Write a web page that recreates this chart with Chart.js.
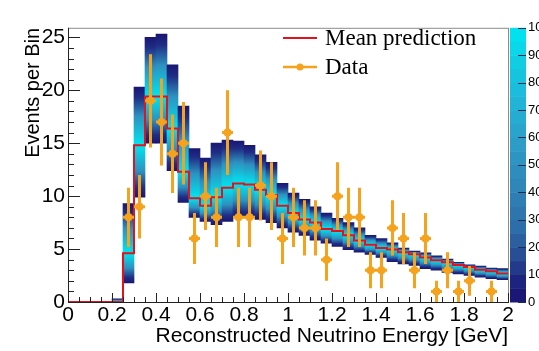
<!DOCTYPE html>
<html>
<head>
<meta charset="utf-8">
<script src="https://cdn.jsdelivr.net/npm/chart.js@4.4.1/dist/chart.umd.min.js"></script>
<style>
  body { margin: 0; background: #fff; }
  #wrap { width: 539px; height: 351px; position: relative; }
</style>
</head>
<body>
<div id="wrap"><canvas id="chart"></canvas></div>
<script>
// prediction histogram, 0.05 GeV bins
const binWidth = 0.05;
const binStart = [0.00, 0.05, 0.10, 0.15, 0.20, 0.25, 0.30, 0.35, 0.40, 0.45,
                  0.50, 0.55, 0.60, 0.65, 0.70, 0.75, 0.80, 0.85, 0.90, 0.95,
                  1.00, 1.05, 1.10, 1.15, 1.20, 1.25, 1.30, 1.35, 1.40, 1.45,
                  1.50, 1.55, 1.60, 1.65, 1.70, 1.75, 1.80, 1.85, 1.90, 1.95];
const meanPred = [0, 0, 0, 0, 0, 4.6, 14.8, 19.4, 19.4, 16.4,
                  12.3, 9.8, 9.1, 9.9, 10.8, 11.2, 11.1, 10.6, 10.1, 9.1,
                  8.4, 7.8, 7.5, 6.9, 6.7, 6.3, 5.8, 5.4, 5.1, 4.95,
                  4.7, 4.5, 4.2, 3.95, 3.75, 3.5, 3.3, 3.05, 2.9, 2.7];
// spread of the predicted spectra (lowest / highest filled cell per bin)
const bandLow  = [null, null, null, null, 0, 1.8, 9.9, 15.0, 15.0, 12.4,
                  9.4, 8.0, 7.6, 7.3, 7.6, 8.0, 8.0, 7.8, 7.5, 7.0,
                  6.6, 6.3, 5.85, 5.55, 5.25, 4.95, 4.7, 4.5, 4.2, 3.8,
                  3.6, 3.45, 3.15, 3.0, 2.8, 2.65, 2.5, 2.35, 2.2, 2.1];
const bandHigh = [null, null, null, null, 0.3, 9.3, 20.3, 25.0, 25.3, 22.4,
                  18.5, 14.5, 13.6, 15.0, 15.3, 15.2, 14.8, 13.9, 13.2, 11.2,
                  10.3, 9.7, 9.0, 8.4, 7.9, 7.5, 7.0, 6.3, 6.0, 5.6,
                  5.1, 4.8, 4.65, 4.35, 4.05, 3.75, 3.5, 3.4, 3.2, 3.15];

// observed events
const dataE = [0.275, 0.325, 0.375, 0.425, 0.475, 0.525, 0.575, 0.625, 0.675, 0.725,
               0.775, 0.825, 0.875, 0.925, 0.975, 1.025, 1.075, 1.125, 1.175, 1.225,
               1.275, 1.325, 1.375, 1.425, 1.475, 1.525, 1.575, 1.625, 1.675, 1.725,
               1.775, 1.825, 1.925];
const dataN = [8, 9, 19, 17, 14, 15, 6, 10, 8, 16,
               8, 8, 11, 10, 6, 8, 7, 7, 4, 10,
               8, 8, 3, 3, 7, 6, 3, 6, 1, 3,
               1, 2, 1];
const dataErr = [2.8, 3.0, 4.4, 4.1, 3.7, 3.9, 2.4, 3.2, 2.8, 4.0,
                 2.8, 2.8, 3.3, 3.2, 2.4, 2.8, 2.6, 2.6, 2.0, 3.2,
                 2.8, 2.8, 1.7, 1.7, 2.6, 2.4, 1.7, 2.4, 1.0, 1.7,
                 1.0, 1.4, 1.0];

const xTitle = 'Reconstructed Neutrino Energy [GeV]';
const yTitle = 'Events per Bin';
const zMin = 0, zMax = 100;

// ---- styling ----
const RED = '#e3121c';
const ORANGE = '#f5a21c';
const paletteStops = [
  [0.00, [24, 18, 110]],
  [0.08, [29, 37, 128]],
  [0.16, [39, 74, 147]],
  [0.26, [45, 106, 167]],
  [0.40, [47, 130, 182]],
  [0.55, [46, 152, 196]],
  [0.70, [37, 176, 213]],
  [0.85, [20, 200, 226]],
  [1.00, [0, 230, 240]]
];

function paletteColor(t) {
  t = Math.max(0, Math.min(1, t));
  for (let i = 1; i < paletteStops.length; i++) {
    const a = paletteStops[i - 1], b = paletteStops[i];
    if (t <= b[0]) {
      const f = (t - a[0]) / (b[0] - a[0]);
      const c = a[1].map((v, k) => Math.round(v + (b[1][k] - v) * f));
      return 'rgb(' + c.join(',') + ')';
    }
  }
  return 'rgb(0,230,240)';
}

function isMajorX(v) {
  return Math.abs(v * 5 - Math.round(v * 5)) < 1e-6;
}

// band bars + mean of each, skipping empty bins
let bandData = [];
let bandMean = [];
for (let i = 0; i < binStart.length; i++) {
  if (bandLow[i] === null) continue;
  bandData.push({x: binStart[i] + binWidth / 2, y: [bandLow[i], bandHigh[i]]});
  bandMean.push(meanPred[i]);
}

let meanLine = binStart.map((x, i) => ({x: x, y: meanPred[i]}));
meanLine.push({x: binStart[binStart.length - 1] + binWidth, y: meanPred[meanPred.length - 1]});

let points = dataE.map((x, i) => ({x: x, y: dataN[i]}));

function bandFill(ctx) {
  if (ctx.type !== 'data') return paletteColor(0.05);
  const chart = ctx.chart;
  const ys = chart.scales.y;
  if (!chart.chartArea || !ys) return paletteColor(0.05);
  const lo = ctx.raw.y[0], hi = ctx.raw.y[1];
  const yTop = ys.getPixelForValue(hi), yBot = ys.getPixelForValue(lo);
  if (yBot - yTop < 3) return paletteColor(0.03);
  const m = bandMean[ctx.dataIndex];
  let f = (hi - m) / (hi - lo);
  f = Math.max(0.15, Math.min(0.85, f));
  const g = chart.ctx.createLinearGradient(0, yTop, 0, yBot);
  g.addColorStop(0, paletteColor(0.02));
  g.addColorStop(f * 0.18, paletteColor(0.1));
  g.addColorStop(f * 0.5, paletteColor(0.5));
  g.addColorStop(f, paletteColor(1));
  g.addColorStop(f + (1 - f) * 0.5, paletteColor(0.5));
  g.addColorStop(f + (1 - f) * 0.82, paletteColor(0.1));
  g.addColorStop(1, paletteColor(0.02));
  return g;
}

function drawErrorBars(chart) {
  const c = chart.ctx, xs = chart.scales.x, ys = chart.scales.y;
  c.save();
  c.strokeStyle = ORANGE;
  c.lineWidth = 3;
  c.beginPath();
  for (let i = 0; i < dataE.length; i++) {
    const x = xs.getPixelForValue(dataE[i]);
    const y = ys.getPixelForValue(dataN[i]);
    c.moveTo(x, ys.getPixelForValue(dataN[i] + dataErr[i]));
    c.lineTo(x, ys.getPixelForValue(Math.max(0, dataN[i] - dataErr[i])));
    c.moveTo(x - 5.5, y);
    c.lineTo(x + 5.5, y);
  }
  c.stroke();
  c.restore();
}

function drawFrame(chart) {
  const c = chart.ctx, a = chart.chartArea, xs = chart.scales.x, ys = chart.scales.y;
  c.save();
  c.lineWidth = 1;
  c.strokeStyle = '#8c8c8c';
  c.strokeRect(a.left + 0.5, a.top + 0.5, a.right - a.left, a.bottom - a.top);
  c.strokeStyle = '#222';
  c.beginPath();
  c.moveTo(a.left + 0.5, a.top);
  c.lineTo(a.left + 0.5, a.bottom + 0.5);
  c.lineTo(a.right + 1, a.bottom + 0.5);
  ys.ticks.forEach(t => {
    if (!Number.isInteger(t.value)) return;
    const y = Math.round(ys.getPixelForValue(t.value)) + 0.5;
    const len = t.value % 5 === 0 ? 12 : 6;
    c.moveTo(a.left, y);
    c.lineTo(a.left + len, y);
  });
  xs.ticks.forEach(t => {
    const x = Math.round(xs.getPixelForValue(t.value)) + 0.5;
    const len = isMajorX(t.value) ? 9 : 5;
    c.moveTo(x, a.bottom);
    c.lineTo(x, a.bottom - len);
  });
  c.stroke();
  c.restore();
}

function drawPaletteBar(chart) {
  const c = chart.ctx, zs = chart.scales.z;
  const x0 = zs.left + 2, x1 = zs.left + 18;
  c.save();
  const steps = 20;
  for (let k = 0; k < steps; k++) {
    const z0 = zMin + (zMax - zMin) * k / steps;
    const z1 = zMin + (zMax - zMin) * (k + 1) / steps;
    const yTop = zs.getPixelForValue(z1), yBot = zs.getPixelForValue(z0);
    c.fillStyle = paletteColor((k + 0.5) / steps);
    c.fillRect(x0, yTop, x1 - x0, yBot - yTop + 0.5);
  }
  c.strokeStyle = '#1c2c55';
  c.lineWidth = 1;
  c.beginPath();
  zs.ticks.forEach(t => {
    const y = Math.round(zs.getPixelForValue(t.value)) + 0.5;
    c.moveTo(x1 - 8, y);
    c.lineTo(x1, y);
  });
  c.stroke();
  c.restore();
}

function drawLegendBox(chart) {
  const c = chart.ctx;
  const sets = chart.data.datasets;
  c.save();
  c.font = '23px "Liberation Serif", "Times New Roman", serif';
  c.textBaseline = 'middle';
  c.fillStyle = '#000';
  // mean prediction
  c.strokeStyle = RED;
  c.lineWidth = 2;
  c.beginPath();
  c.moveTo(283, 38);
  c.lineTo(317, 38);
  c.stroke();
  c.fillText(sets[1].label, 325, 39);
  // data
  c.strokeStyle = ORANGE;
  c.lineWidth = 2.5;
  c.beginPath();
  c.moveTo(283, 67);
  c.lineTo(317, 67);
  c.stroke();
  c.fillStyle = ORANGE;
  c.beginPath();
  c.arc(300, 67, 3.5, 0, Math.PI * 2);
  c.fill();
  c.fillStyle = '#000';
  c.fillText(sets[2].label, 325, 68);
  c.restore();
}

const decorations = {
  id: 'decorations',
  beforeDraw(chart) {
    const c = chart.ctx;
    c.save();
    c.fillStyle = '#fff';
    c.fillRect(0, 0, chart.width, chart.height);
    c.restore();
  },
  afterDatasetsDraw(chart) {
    drawErrorBars(chart);
    drawFrame(chart);
    drawPaletteBar(chart);
    drawLegendBox(chart);
  }
};

const tickFont = {family: '"Liberation Sans", Arial, sans-serif', size: 21};

new Chart('chart', {
  type: 'bar',
  data: {
    datasets: [
      {
        type: 'bar',
        label: 'Predicted spectra',
        data: bandData,
        backgroundColor: bandFill,
        borderWidth: 0,
        barPercentage: 1,
        categoryPercentage: 1,
        grouped: false,
        order: 3
      },
      {
        type: 'line',
        label: 'Mean prediction',
        data: meanLine,
        stepped: 'before',
        borderColor: RED,
        borderWidth: 2,
        pointRadius: 0,
        fill: false,
        order: 2
      },
      {
        type: 'line',
        label: 'Data',
        data: points,
        showLine: false,
        pointRadius: 4,
        pointBackgroundColor: ORANGE,
        pointBorderWidth: 0,
        order: 1
      }
    ]
  },
  options: {
    responsive: true,
    maintainAspectRatio: false,
    animation: false,
    layout: {padding: {top: 12, left: 0, right: 0, bottom: 0}},
    plugins: {
      legend: {display: false},
      tooltip: {enabled: false}
    },
    scales: {
      x: {
        type: 'linear',
        offset: false,
        min: 0,
        max: 2,
        grid: {display: false, drawTicks: false},
        border: {display: false},
        ticks: {
          stepSize: 0.05,
          autoSkip: false,
          maxRotation: 0,
          padding: 1,
          color: '#000',
          font: tickFont,
          callback: v => isMajorX(v) ? String(Number(v.toFixed(2))) : ''
        },
        title: {
          display: true,
          text: xTitle,
          align: 'end',
          color: '#000',
          font: tickFont,
          padding: {top: 0, bottom: 2}
        },
        afterFit: s => { s.height = 49; }
      },
      y: {
        type: 'linear',
        min: 0,
        max: 25.9,
        grid: {display: false, drawTicks: false},
        border: {display: false},
        ticks: {
          stepSize: 1,
          includeBounds: false,
          autoSkip: false,
          padding: 3,
          color: '#000',
          font: tickFont,
          callback: v => (Number.isInteger(v) && v % 5 === 0) ? String(v) : ''
        },
        title: {
          display: true,
          text: yTitle,
          align: 'end',
          color: '#000',
          font: {family: '"Liberation Sans", Arial, sans-serif', size: 20},
          padding: {top: 21, bottom: 0}
        },
        afterFit: s => { s.width = 68; }
      },
      z: {
        type: 'linear',
        position: 'right',
        min: zMin,
        max: zMax,
        grid: {display: false, drawTicks: false},
        border: {display: false},
        ticks: {
          stepSize: 10,
          padding: 20,
          color: '#000',
          font: {family: '"Liberation Sans", Arial, sans-serif', size: 13}
        },
        afterFit: s => { s.width = 31; }
      }
    }
  },
  plugins: [decorations]
});
</script>
</body>
</html>
